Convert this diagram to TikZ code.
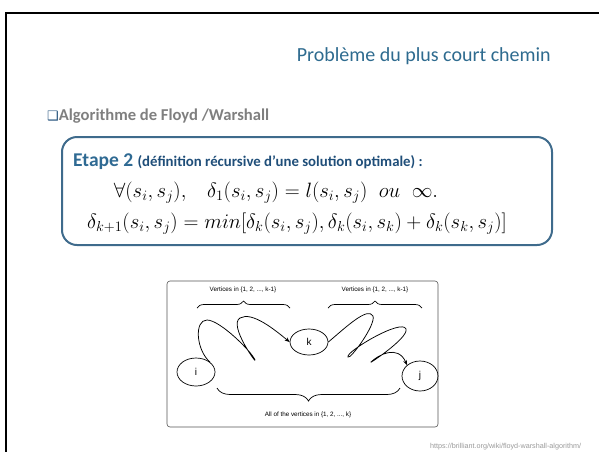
\documentclass[tikz,border=0pt]{standalone}
\usepackage{fontspec}
\setmainfont{Carlito}
\newfontfamily\arialf{Liberation Sans}
\newfontfamily\dejavu{DejaVu Sans}
\usetikzlibrary{decorations.pathreplacing,arrows.meta,shapes.geometric}
\definecolor{titleblue}{HTML}{2E6B8F}
\definecolor{stepblue}{HTML}{2F6A93}
\definecolor{darkblue}{HTML}{1F4E79}
\definecolor{boxedge}{HTML}{3F6B8C}
\definecolor{headgray}{HTML}{7F7F7F}
\definecolor{diaggray}{HTML}{555555}
\tikzset{
  vert/.style={draw, ellipse, line width=0.7pt, inner sep=0pt, font=\arialf\fontsize{10}{12}\selectfont},
  lab/.style={font=\arialf\fontsize{6.3}{7}\selectfont, inner sep=0pt},
  bracetop/.style={draw, line width=0.7pt, decorate, decoration={brace, amplitude=7pt}},
  bracebot/.style={draw, line width=0.7pt, decorate, decoration={brace, amplitude=13pt}},
  wave/.style={draw, line width=0.75pt, -{Stealth[length=5pt,width=4pt]}},
}
\begin{document}
\begin{tikzpicture}[x=1pt,y=-1pt]
\useasboundingbox (0,0) rectangle (599,451);
% slide frame
\draw[line width=2.5pt] (6,452) -- (6,13) -- (600,13);
% title
\node[anchor=base east, text=titleblue, font=\fontsize{20}{22}\selectfont, inner sep=0pt] (title) at (551,61) {Problème du plus court chemin};
% heading
\node[anchor=base west, font=\bfseries\fontsize{16.6}{18}\selectfont, text=headgray, inner sep=0pt] (head) at (47,120) {{\color{darkblue}\dejavu\mdseries\fontsize{13}{14}\selectfont ❑}Algorithme de Floyd /Warshall};
% rounded box
\draw[boxedge, line width=2pt, rounded corners=15pt] (62,137) rectangle (552,245);
\node[anchor=base west, text=stepblue, font=\bfseries\fontsize{19.5}{22}\selectfont, inner sep=0pt] (etape) at (73,166) {Etape 2 {\fontsize{14.8}{16}\selectfont\color{darkblue}(définition récursive d’une solution optimale) :}};
\node[anchor=base, inner sep=0pt, font=\fontsize{19.5}{23}\selectfont] (eq1) at (276,197) {$\forall(s_i,s_j),\;\;\; \delta_1(s_i,s_j)=l(s_i,s_j)\;\;ou\;\;\infty.$};
\node[anchor=base, inner sep=0pt, font=\fontsize{20.8}{23}\selectfont] (eq2) at (297,228) {$\delta_{k+1}(s_i,s_j)=min[\delta_k(s_i,s_j),\delta_k(s_i,s_k)+\delta_k(s_k,s_j)]$};
% diagram frame
\draw[diaggray, line width=0.6pt, rounded corners=3pt] (167,281) rectangle (438,427);
% vertices
\node[vert, minimum width=38pt, minimum height=28pt] (i) at (196,372) {i};
\node[vert, minimum width=38pt, minimum height=26pt] (k) at (309,342) {k};
\node[vert, minimum width=36pt, minimum height=30pt] (j) at (420,376) {j};
% braces and labels
\draw[bracetop] (197,308) -- (290,308);
\draw[bracetop] (328,308) -- (422,308);
\draw[bracebot] (400,388) -- (217,388);
\node[lab] (l1) at (243,290) {Vertices in \{1, 2, ..., k-1\}};
\node[lab] (l2) at (375,290) {Vertices in \{1, 2, ..., k-1\}};
\node[lab] (l3) at (308,415) {All of the vertices in \{1, 2, ..., k\}};
% wavy paths
\draw[wave] (i.35) .. controls (196,350) and (194,320) .. (207,320)
  .. controls (220,320) and (252,352) .. (255,360)
  .. controls (258,366) and (228,325) .. (240,318)
  .. controls (252,311) and (275,330) .. (k.west);
\draw[wave] (k.east) .. controls (345,328) and (368,306) .. (373,316)
  .. controls (376,325) and (350,360) .. (348,357)
  .. controls (345,352) and (402,318) .. (406,329)
  .. controls (409,338) and (366,366) .. (371,362)
  .. controls (378,355) and (398,344) .. (j.north west);
% source
\node[anchor=base west, font=\arialf\fontsize{7.2}{8}\selectfont, text=gray!80, inner sep=0pt] (src) at (430,448) {https://brilliant.org/wiki/floyd-warshall-algorithm/};
\end{tikzpicture}
\end{document}
